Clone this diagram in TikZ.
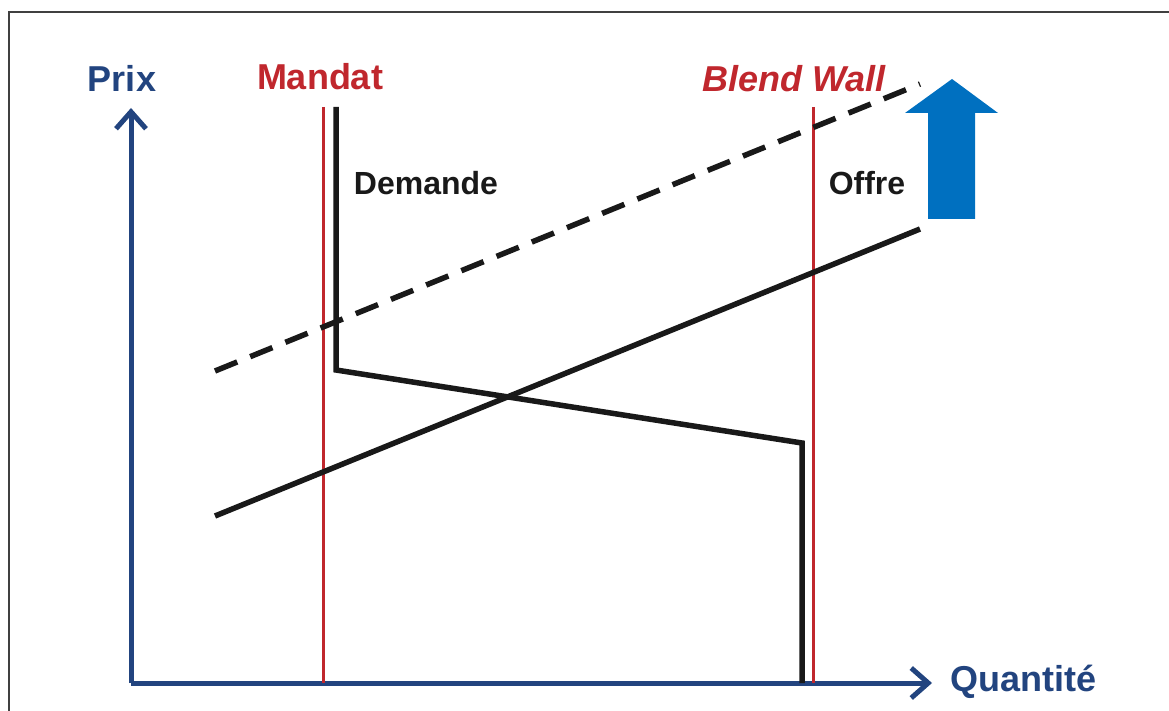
\documentclass[tikz,border=0pt]{standalone}
\usepackage{fontspec}
\setmainfont{Liberation Sans}
\usepackage{xcolor}
\usetikzlibrary{positioning,arrows.meta}
\definecolor{axisblue}{HTML}{22447F}
\definecolor{wallred}{HTML}{C0272D}
\definecolor{shiftblue}{HTML}{0070C0}
\definecolor{framegray}{HTML}{404040}

\begin{document}
\begin{tikzpicture}[
  x=1pt, y=-1pt,
  axis/.style={draw=axisblue, line width=5pt, -{Straight Barb[length=17pt, width=30pt, line width=5pt]}},
  wall/.style={draw=wallred, line width=3pt},
  curve/.style={draw=black!90, line width=5.5pt},
  bigtitle/.style={font=\fontsize{36}{40}\selectfont\bfseries, anchor=base},
  label/.style={font=\fontsize{32}{36}\selectfont\bfseries, text=black!90, anchor=base}
]
  \useasboundingbox (0,0) rectangle (1169,711);
  % Frame
  \draw[framegray, line width=2pt] (9,711) -- (9,12) -- (1169,12);

  % Axes
  \coordinate (origin) at (131,683);
  \coordinate (ytip) at (131,108);
  \coordinate (xtip) at (932,683);
  \draw[axis] (origin) -- (ytip);
  \draw[axis] (origin) -- (xtip);
  \node[bigtitle, text=axisblue] (prix) at (122,92) {Prix};
  \node[bigtitle, text=axisblue] (qte) at (1023,691) {Quantité};

  % Mandate and blend wall
  \coordinate (mtop) at (323,107);
  \coordinate (mbot) at (323,683);
  \coordinate (btop) at (813,107);
  \coordinate (bbot) at (813,683);
  \draw[wall] (mtop) -- (mbot);
  \draw[wall] (btop) -- (bbot);
  \node[bigtitle, text=wallred] (mandat) at (320,90) {Mandat};
  \node[bigtitle, text=wallred, font=\fontsize{36}{40}\selectfont\bfseries\itshape] (blend) at (794,92) {Blend Wall};

  % Demand
  \coordinate (d1) at (336,107);
  \coordinate (d2) at (336,370);
  \coordinate (d3) at (802,443);
  \coordinate (d4) at (802,683);
  \draw[curve, line join=miter] (d1) -- (d2) -- (d3) -- (d4);
  \node[label] (dem) at (426,195) {Demande};

  % Supply, before and after
  \coordinate (s1) at (215,516);
  \coordinate (s2) at (920,229);
  \coordinate (n1) at (215,371);
  \coordinate (n2) at (920,84);
  \draw[curve] (s1) -- (s2);
  \draw[curve, dash pattern=on 24pt off 14pt] (n1) -- (n2);
  \node[label] (offre) at (867,195) {Offre};

  % Shift arrow
  \fill[shiftblue] (928,219) -- (928,113) -- (905,113) -- (952,79)
    -- (998,113) -- (975,113) -- (975,219) -- cycle;
\end{tikzpicture}
\end{document}
